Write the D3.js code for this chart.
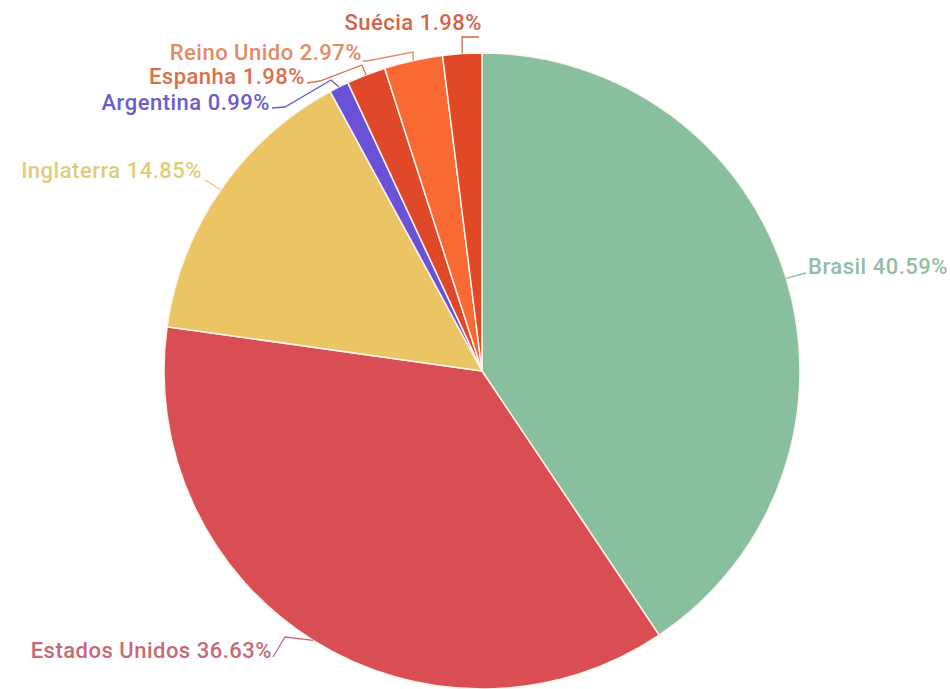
<!DOCTYPE html>
<html>
<head>
<meta charset="utf-8">
<script src="https://cdn.jsdelivr.net/npm/d3@7/dist/d3.min.js"></script>
<style>
  html, body { margin: 0; padding: 0; background: #ffffff; }
  svg { display: block; }
  .lbl { font-family: Roboto, "Noto Sans", sans-serif; font-weight: 500; font-size: 22px; letter-spacing: 0.5px; }
</style>
</head>
<body>
<svg id="chart" width="950" height="689"></svg>
<script>
// Country shares (%), clockwise from 12 o'clock
const categories = ["Brasil", "Estados Unidos", "Inglaterra", "Argentina", "Espanha", "Reino Unido", "Suécia"];
const shares = [40.59, 36.63, 14.85, 0.99, 1.98, 2.97, 1.98];
const sliceColors = ["#87bf9f", "#d94e52", "#ebc563", "#6a52d8", "#e0482a", "#f86933", "#e04826"];
const labelColors = ["#93bea4", "#c66a74", "#e3cb7c", "#6a5ec9", "#d8704e", "#e48a66", "#d4644a"];

// Label layout: leader bend points and text anchor (end of leader)
const labelLayout = [
  { bends: [[806, 273]], text: [808, 274], anchor: "start" },
  { bends: [[285, 637], [273, 657]], text: [272, 658], anchor: "end" },
  { bends: [[205, 180]], text: [202, 178], anchor: "end" },
  { bends: [[331, 80], [285, 107], [272, 108]], text: [270, 110], anchor: "end" },
  { bends: [[362, 65], [320, 81], [307, 83]], text: [305, 84], anchor: "end" },
  { bends: [[413, 52], [367, 61], [363, 61]], text: [362, 60], anchor: "end" },
  { bends: [[462, 37], [479, 37]], text: [482, 30], anchor: "end" }
];

const cx = 482, cy = 371, radius = 318;

const svg = d3.select("#chart");
const g = svg.append("g").attr("transform", `translate(${cx},${cy})`);

const pie = d3.pie().sort(null).value(d => d.value);
const data = pie(categories.map((c, i) => ({ name: c, value: shares[i], i })));

const arc = d3.arc().innerRadius(0).outerRadius(radius);
const edgeArc = d3.arc().innerRadius(radius).outerRadius(radius);

g.selectAll("path.slice")
  .data(data)
  .join("path")
  .attr("class", "slice")
  .attr("d", arc)
  .attr("fill", d => sliceColors[d.data.i])
  .attr("stroke", "#fff3ea")
  .attr("stroke-width", 1.5)
  .attr("stroke-linejoin", "round");

// Leader lines from slice edge to label
const line = d3.line();
svg.selectAll("path.leader")
  .data(data)
  .join("path")
  .attr("class", "leader")
  .attr("d", d => {
    const [x, y] = edgeArc.centroid(d);
    const pts = [[x + cx, y + cy]].concat(labelLayout[d.data.i].bends);
    return line(pts);
  })
  .attr("fill", "none")
  .attr("stroke", d => labelColors[d.data.i])
  .attr("stroke-width", 1.3);

svg.selectAll("text.lbl")
  .data(data)
  .join("text")
  .attr("class", "lbl")
  .attr("x", d => labelLayout[d.data.i].text[0])
  .attr("y", d => labelLayout[d.data.i].text[1])
  .attr("text-anchor", d => labelLayout[d.data.i].anchor)
  .attr("fill", d => labelColors[d.data.i])
  .text(d => `${d.data.name} ${d.data.value.toFixed(2)}%`);
</script>
</body>
</html>
